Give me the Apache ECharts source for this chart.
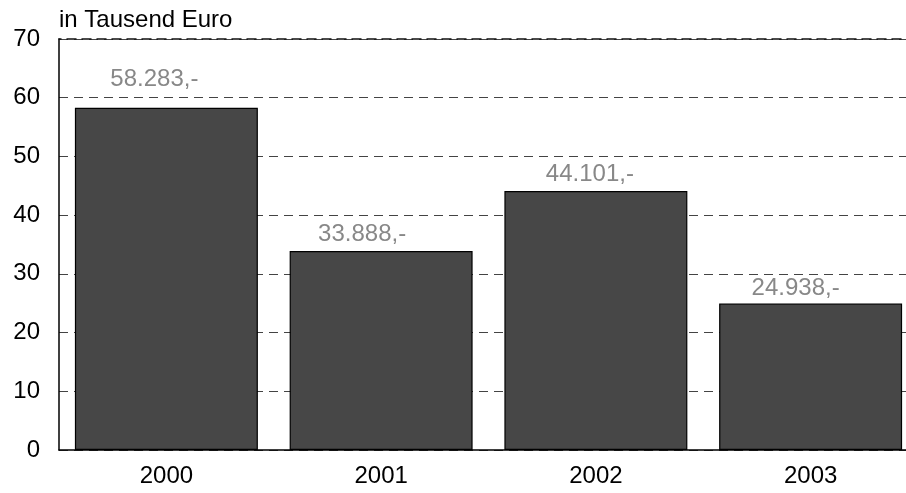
<!DOCTYPE html>
<html>
<head>
<meta charset="utf-8">
<script src="https://cdn.jsdelivr.net/npm/echarts@6/dist/echarts.min.js"></script>
<style>html,body{margin:0;padding:0;background:#fff;overflow:hidden;}#c{width:918px;height:493px;}</style>
</head>
<body>
<div id="c"></div>
<script>
const categories = ['2000', '2001', '2002', '2003'];
const values = [58.283, 33.888, 44.101, 24.938];
const yTicks = [0, 10, 20, 30, 40, 50, 60, 70];
const unitLabel = 'in Tausend Euro';
// label placement tweaks (style only)
const labelOffsets = [[-12, -11], [-19, 0], [-6, 0], [-15, 2]];

const FONT = "'Liberation Sans', Arial, sans-serif";
const chart = echarts.init(document.getElementById('c'), null, {renderer: 'canvas'});
chart.setOption({
  animation: false,
  backgroundColor: '#ffffff',
  title: {
    text: unitLabel, left: 54, top: 3,
    textStyle: {fontFamily: FONT, fontSize: 24, fontWeight: 'normal', color: '#000'}
  },
  grid: {left: 59, top: 39, width: 859, height: 411, containLabel: false},
  xAxis: [{
    type: 'category', data: categories,
    axisLine: {show: true, lineStyle: {color: '#000', width: 1.5}},
    axisTick: {show: false},
    axisLabel: {fontFamily: FONT, fontSize: 24, color: '#000', margin: 14},
    splitLine: {show: false}
  }, {
    type: 'category', data: categories, position: 'top',
    axisLine: {show: true, lineStyle: {color: '#111', width: 1.5, type: [9, 6], dashOffset: 7}},
    axisTick: {show: false}, axisLabel: {show: false}
  }],
  yAxis: {
    type: 'value', min: yTicks[0], max: yTicks[yTicks.length - 1], interval: 10,
    axisLine: {show: true, lineStyle: {color: '#000', width: 1.5}},
    axisTick: {show: false},
    axisLabel: {fontFamily: FONT, fontSize: 24, color: '#000', margin: 19},
    splitLine: {show: true, lineStyle: {color: '#444', width: 1, type: [9, 6]}}
  },
  series: [{
    type: 'bar',
    barCategoryGap: '14.8%',
    data: values.map((v, i) => ({
      value: v,
      label: {offset: labelOffsets[i]}
    })),
    itemStyle: {color: '#474747', borderColor: '#000', borderWidth: 1.2},
    label: {
      show: true, position: 'top', distance: 5,
      fontFamily: FONT, fontSize: 24, color: '#888888',
      formatter: p => p.value.toFixed(3) + ',-'
    }
  }]
});
</script>
</body>
</html>
